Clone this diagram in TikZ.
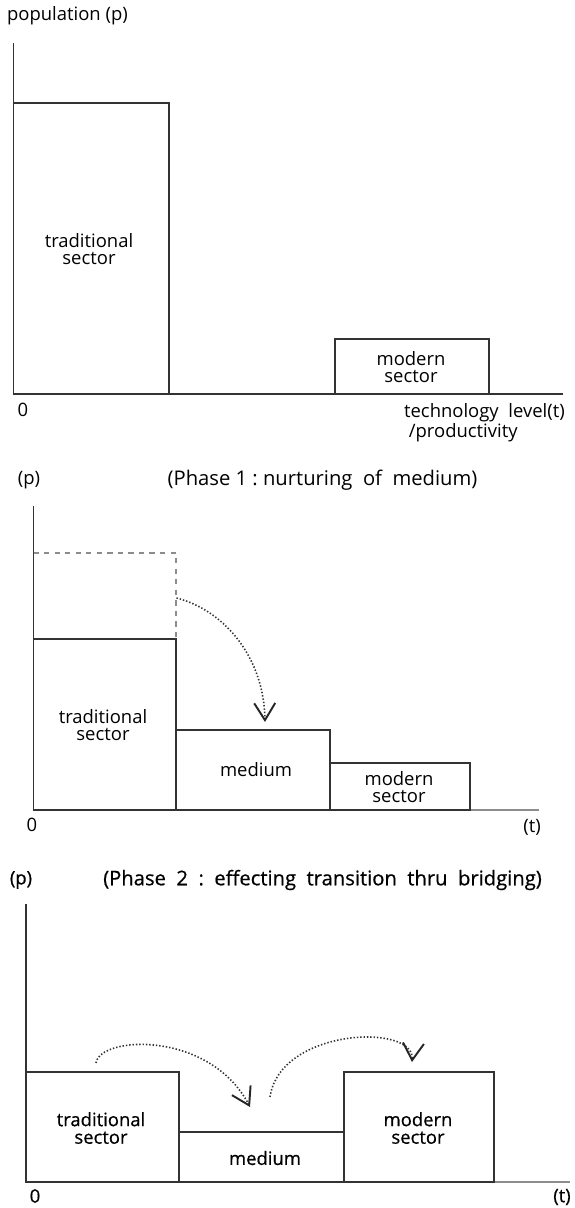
\documentclass[tikz,border=0pt]{standalone}
\usepackage{fontspec}
\setmainfont{Open Sans}
\newfontfamily\heavysans[FakeBold=0.6]{Open Sans}
\usetikzlibrary{arrows.meta}

\tikzset{
	box/.style={draw=black!80, line width=1.1pt},
	ghost/.style={draw=black!45, dashed, line width=0.6pt},
	axis/.style={draw=black!80, line width=1.1pt},
	tail/.style={draw=black!45, line width=0.8pt},
	flow/.style={draw=black!80, dash pattern=on 0.8pt off 1.1pt, line width=0.9pt, -{Straight Barb[length=0.34cm,width=0.42cm,line width=1.1pt,black!85,sep=0pt]}},
	lbl/.style={align=center, inner sep=1pt, font=\fontsize{10.5}{10}\selectfont},
	ttl/.style={font=\fontsize{11.5}{12}\selectfont},
	heavy/.style={font=\heavysans\fontsize{10.5}{10}\selectfont}
}

\begin{document}
\begin{tikzpicture}[every node/.style={lbl}]
		\useasboundingbox (0,0) rectangle (11.5,24.16);
		%% top panel : starting point
		\draw[axis] (0.27,23.30) -- (0.27,16.28) -- (11.26,16.28);
		\draw[box] (0.27,16.28) rectangle (3.38,22.10);
		\draw[box] (6.70,16.28) rectangle (9.78,17.38);
		\node (pop) [anchor=west] at (0.10,23.84) {population (p)};
		\node (trad1) at (1.78,19.18) {traditional\\sector};
		\node (mod1) at (8.22,16.82) {modern\\sector};
		\node (zero1) at (0.46,15.96) {0};
		\node (tech) [anchor=north west, align=left] at (8.04,16.14) {technology\ \ level(t)\\\ /productivity};
		
		%% middle panel : phase 1
		\node (p2) at (0.58,14.56) {(p)};
		\node (ph1) [ttl] at (6.45,14.56) {(Phase\ 1\ :\ nurturing\ \ of\ \ medium)};
		\draw[axis] (0.67,14.04) -- (0.67,7.96) -- (9.40,7.96);
		\draw[tail] (9.40,7.96) -- (10.78,7.96);
		\draw[ghost] (0.67,13.10) -- (3.52,13.10) -- (3.52,11.38);
		\draw[box] (0.67,7.96) rectangle (3.52,11.38);
		\draw[box] (3.52,7.96) rectangle (6.60,9.56);
		\draw[box] (6.60,7.96) rectangle (9.40,8.90);
		\node (trad2) at (2.06,9.66) {traditional\\sector};
		\node (med2) at (5.12,8.76) {medium};
		\node (mod2) at (7.98,8.42) {modern\\sector};
		\node (zero2) at (0.64,7.66) {0};
		\node (t2) at (10.64,7.62) {(t)};
		\coordinate (out2) at (3.53,12.20);
		\coordinate (in2) at (5.30,9.72);
		\draw[flow] (out2) .. controls (4.5,11.95) and (5.28,11.0) .. (in2);
		
		%% bottom panel : phase 2
		\begin{scope}[every node/.style={heavy, align=center, inner sep=1pt}]
		\node (p3) at (0.42,6.56) {(p)};
		\node (ph2) [font=\heavysans\fontsize{11.5}{12}\selectfont] at (6.45,6.56) {(Phase\ \ 2\ \ :\ \ effecting\ \ transition\ \ thru\ \ bridging)};
		\draw[axis] (0.52,6.08) -- (0.52,0.52) -- (9.88,0.52);
		\draw[tail] (9.88,0.52) -- (11.40,0.52);
		\draw[box] (0.52,0.52) rectangle (3.58,2.72);
		\draw[box] (3.58,0.52) rectangle (6.88,1.52);
		\draw[box] (6.88,0.52) rectangle (9.88,2.72);
		\node (trad3) at (2.02,1.60) {traditional\\sector};
		\node (med3) at (5.30,1.00) {medium};
		\node (mod3) at (8.36,1.60) {modern\\sector};
		\node (zero3) at (0.70,0.24) {0};
		\node (t3) at (11.24,0.22) {(t)};
		\coordinate (outa) at (1.92,2.90);
		\coordinate (ina) at (5.00,2.02);
		\coordinate (outb) at (5.40,2.22);
		\coordinate (inb) at (8.24,2.92);
		\draw[flow] (outa) .. controls (2.0,3.45) and (4.2,3.55) .. (ina);
		\draw[flow] (outb) .. controls (5.6,3.6) and (8.3,3.7) .. (inb);
		\end{scope}
	\end{tikzpicture}
\end{document}
